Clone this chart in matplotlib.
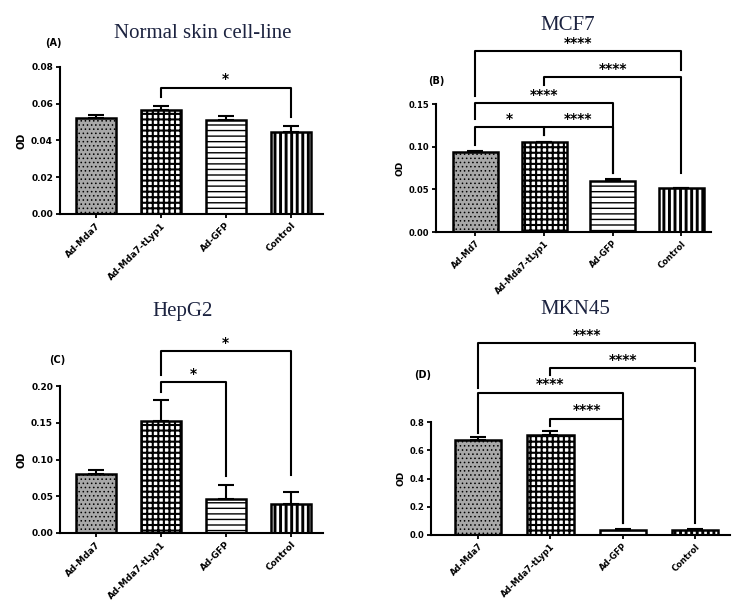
import matplotlib
matplotlib.use('Agg')
import matplotlib.pyplot as plt
import numpy as np

# ------------------------------------------------------------
# data
# ------------------------------------------------------------
labels_a = ["Ad-Mda7", "Ad-Mda7-tLyp1", "Ad-GFP", "Control"]
labels_b = ["Ad-Md7", "Ad-Mda7-tLyp1", "Ad-GFP", "Control"]
labels_c = ["Ad-Mda7", "Ad-Mda7-tLyp1", "Ad-GFP", "Control"]
labels_d = ["Ad-Mda7", "Ad-Mda7-tLyp1", "Ad-GFP", "Control"]

od_a = [0.052, 0.0565, 0.051, 0.0445]
err_a = [0.002, 0.0025, 0.0023, 0.0035]
od_b = [0.094, 0.105, 0.0595, 0.051]
err_b = [0.0008, 0.0006, 0.003, 0.001]
od_c = [0.0805, 0.1525, 0.046, 0.039]
err_c = [0.0055, 0.0285, 0.0195, 0.017]
od_d = [0.673, 0.708, 0.035, 0.035]
err_d = [0.021, 0.026, 0.004, 0.004]

# brackets: (bar i, bar j, height, left leg end, right leg end, stars)
sig_a = [(1, 3, 0.0688, 0.0637, 0.0528, "*")]
sig_b = [(0, 3, 0.2117, 0.159, 0.190, "****"),
         (1, 3, 0.1816, 0.1727, 0.069, "****"),
         (0, 2, 0.151, 0.132, 0.069, "****"),
         (0, 1, 0.123, 0.102, 0.114, "*"),
         (1, 2, 0.123, 0.114, 0.069, "****")]
sig_c = [(1, 3, 0.2475, 0.215, 0.079, "*"),
         (1, 2, 0.205, 0.192, 0.077, "*")]
sig_d = [(0, 3, 1.357, 1.043, 1.232, "****"),
         (1, 3, 1.18, 1.13, 0.087, "****"),
         (0, 2, 1.008, 0.725, 0.087, "****"),
         (1, 2, 0.824, 0.772, 0.087, "****")]

titles = ["Normal skin cell-line", "MCF7", "HepG2", "MKN45"]
tags = ["(A)", "(B)", "(C)", "(D)"]

# bar styles: dotted grey, checker, horizontal lines, vertical stripes
fills = ['#a8a8a8', 'white', 'white', 'white']
hatches = ['....', '+++', '---', '|||']
hatch_lw = [0.6, 1.5, 1.0, 2.1]

W, H = 736, 606
fig = plt.figure(figsize=(W / 100, H / 100), dpi=100)


def px_axes(left, right, top, bottom):
    return fig.add_axes([left / W, 1 - bottom / H, (right - left) / W, (bottom - top) / H])


def draw_panel(ax, labels, vals, errs, sig, ylim, yticks, fmt, xlim, width, tsize):
    x = np.arange(len(vals))
    for k in range(len(vals)):
        with plt.rc_context({'hatch.linewidth': hatch_lw[k]}):
            ax.bar(x[k], vals[k], width=width, color=fills[k], hatch=hatches[k],
                   edgecolor='black', linewidth=1.8, zorder=2)
    ax.errorbar(x, vals, yerr=[np.zeros(len(errs)), errs], fmt='none',
                ecolor='black', elinewidth=1.5, capsize=5.5, capthick=1.5, zorder=3)
    ax.set_xlim(*xlim)
    ax.set_ylim(*ylim)
    ax.set_yticks(yticks)
    ax.set_yticklabels([fmt.format(t) for t in yticks], fontsize=tsize, fontweight='bold')
    ax.set_xticks(x)
    ax.set_xticklabels(labels, rotation=45, ha='right', rotation_mode='anchor',
                       fontsize=tsize, fontweight='bold')
    ax.set_ylabel('OD', fontsize=tsize + 0.5, fontweight='bold', labelpad=3)
    for s in ['top', 'right']:
        ax.spines[s].set_visible(False)
    for s in ['left', 'bottom']:
        ax.spines[s].set_linewidth(1.5)
    ax.tick_params(width=1.3, length=3, pad=2)
    span = ylim[1] - ylim[0]
    for i, j, y, yl, yr, txt in sig:
        ax.plot([i, i, j, j], [yl, y, y, yr], color='black', lw=1.5,
                clip_on=False, zorder=4)
        ax.text((i + j) / 2, y + span * 0.01, txt, ha='center', va='bottom',
                fontsize=10, fontweight='bold', clip_on=False)


ax_a = px_axes(60, 323, 67, 214)
draw_panel(ax_a, labels_a, od_a, err_a, sig_a, (0, 0.08),
           [0, 0.02, 0.04, 0.06, 0.08], '{:.2f}', (-0.56, 3.5), 0.62, 6.5)

ax_b = px_axes(436, 711, 104, 232)
draw_panel(ax_b, labels_b, od_b, err_b, sig_b, (0, 0.15),
           [0, 0.05, 0.10, 0.15], '{:.2f}', (-0.575, 3.43), 0.655, 6)

ax_c = px_axes(60, 323, 386, 533)
draw_panel(ax_c, labels_c, od_c, err_c, sig_c, (0, 0.20),
           [0, 0.05, 0.10, 0.15, 0.20], '{:.2f}', (-0.56, 3.5), 0.62, 6.5)

ax_d = px_axes(431, 730, 422, 535)
draw_panel(ax_d, labels_d, od_d, err_d, sig_d, (0, 0.8),
           [0, 0.2, 0.4, 0.6, 0.8], '{:.1f}', (-0.65, 3.48), 0.64, 6)

# titles and panel tags
title_pos = [(203, 33), (568, 25), (183, 311), (575, 310)]
tag_pos = [(53, 43), (436, 81), (57, 360), (423, 375)]
for t, (tx, ty) in zip(titles, title_pos):
    fig.text(tx / W, 1 - ty / H, t, ha='center', va='center',
             family='Liberation Serif', fontsize=15, color='#1c2340')
for t, (tx, ty) in zip(tags, tag_pos):
    fig.text(tx / W, 1 - ty / H, t, ha='center', va='center',
             fontsize=7, fontweight='bold')

fig.savefig('out.png', dpi=100, facecolor='white')
